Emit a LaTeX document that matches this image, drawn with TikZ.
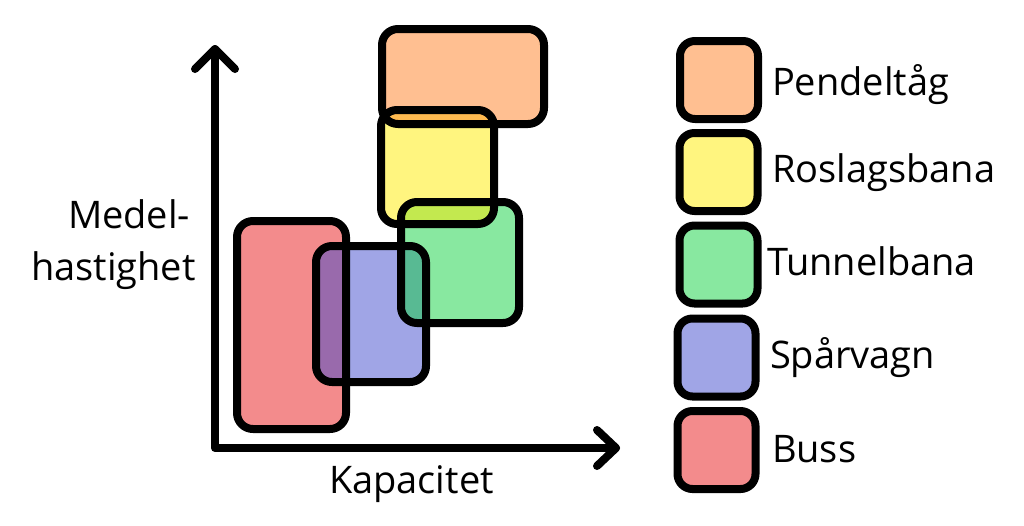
\documentclass[tikz,border=0pt]{standalone}
\usepackage{fontspec}
\setmainfont{Open Sans}
\definecolor{cPen}{RGB}{255,127,35}
\definecolor{cRos}{RGB}{255,235,0}
\definecolor{cTun}{RGB}{17,209,65}
\definecolor{cSpa}{RGB}{65,75,205}
\definecolor{cBus}{RGB}{231,23,25}
\begin{document}
\begin{tikzpicture}[x=1pt,y=-1pt,
  fillbox/.style={rectangle, draw=none, fill opacity=0.5, inner sep=0pt, outer sep=0pt, rounded corners=16pt},
  linebox/.style={rectangle, draw=black, line width=8pt, inner sep=0pt, outer sep=0pt, rounded corners=16pt, line join=round},
  legbox/.style={rectangle, draw=black, line width=8pt, inner sep=0pt, outer sep=0pt, rounded corners=15pt, fill opacity=0.5, draw opacity=1, minimum width=78pt, minimum height=78pt},
  axis/.style={line width=8pt, line cap=round, line join=round},
  lbl/.style={inner sep=0pt, outer sep=0pt, anchor=base west, font=\fontsize{38}{45}\selectfont}
  ]
\useasboundingbox (0,0) rectangle (1024,525);
% fills
\node[fillbox, fill=cBus, minimum width=109pt, minimum height=208pt] (busf) at (291.5,325) {};
\node[fillbox, fill=cSpa, minimum width=110pt, minimum height=136pt] (spaf) at (371,314) {};
\node[fillbox, fill=cTun, minimum width=118pt, minimum height=121pt] (tunf) at (460,262.5) {};
\node[fillbox, fill=cRos, minimum width=113pt, minimum height=114pt] (rosf) at (437.5,167) {};
\node[fillbox, fill=cPen, minimum width=162pt, minimum height=95pt] (penf) at (463,76.5) {};
% outlines
\node[linebox, minimum width=109pt, minimum height=208pt] (bus) at (busf) {};
\node[linebox, minimum width=110pt, minimum height=136pt] (spa) at (spaf) {};
\node[linebox, minimum width=118pt, minimum height=121pt] (tun) at (tunf) {};
\node[linebox, minimum width=113pt, minimum height=114pt] (ros) at (rosf) {};
\node[linebox, minimum width=162pt, minimum height=95pt] (pen) at (penf) {};
% axes
\coordinate (ytip) at (215,49);
\coordinate (orig) at (215,448);
\coordinate (xtip) at (616,448);
\coordinate (yl) at (195,69);
\coordinate (yr) at (235,69);
\coordinate (xu) at (597,430);
\coordinate (xd) at (597,466);
\draw[axis] (ytip) -- (orig) -- (xtip);
\draw[axis] (yl) -- (ytip) -- (yr);
\draw[axis] (xu) -- (xtip) -- (xd);
\node[lbl] (kap) at (329,493) {Kapacitet};
\node[lbl] (med) at (68,228) {Medel-};
\node[lbl] (has) at (31,280) {hastighet};
% legend
\node[legbox, fill=cPen] (lpen) at (719,80) {};
\node[legbox, fill=cRos] (lros) at (718.5,172) {};
\node[legbox, fill=cTun] (ltun) at (718.5,264.5) {};
\node[legbox, fill=cSpa] (lspa) at (716.5,357.5) {};
\node[legbox, fill=cBus] (lbus) at (716.5,450) {};
\node[lbl] (tpen) at (772,95) {Pendeltåg};
\node[lbl] (tros) at (772,182) {Roslagsbana};
\node[lbl] (ttun) at (767,275) {Tunnelbana};
\node[lbl] (tspa) at (770,368) {Spårvagn};
\node[lbl] (tbus) at (772,462) {Buss};
\end{tikzpicture}
\end{document}
